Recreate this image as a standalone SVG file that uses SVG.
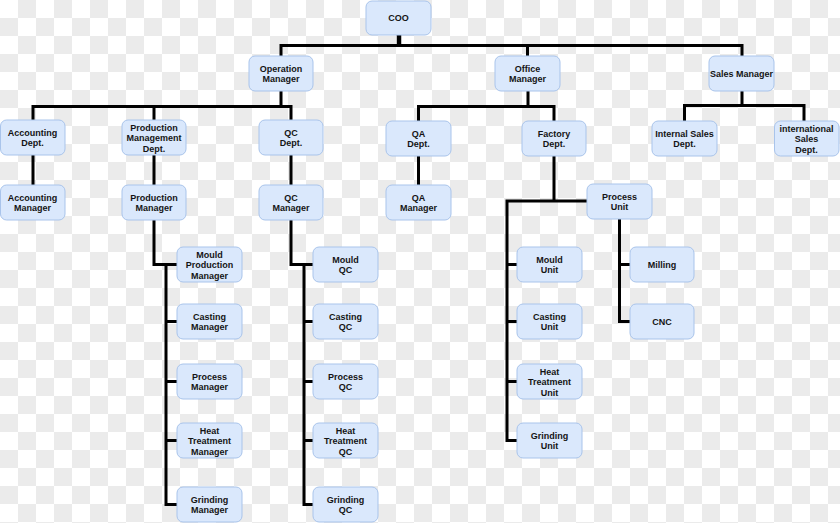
<svg xmlns="http://www.w3.org/2000/svg" width="840" height="523" viewBox="0 0 840 523">
<defs>
<pattern id="chk" x="0" y="0" width="36" height="36" patternUnits="userSpaceOnUse">
<rect width="36" height="36" fill="#ffffff"/>
<rect x="18" y="0" width="18" height="18" fill="#ebebeb"/>
<rect x="0" y="18" width="18" height="18" fill="#ebebeb"/>
</pattern>
</defs>
<style>
.n rect{fill:#dae8fc;stroke:#a9c4eb;stroke-width:1}
.n text{font-family:"Liberation Sans",Arial,sans-serif;font-size:9px;font-weight:bold;fill:#141414;text-anchor:middle}
.c path{fill:none;stroke:#000;stroke-width:3;stroke-linejoin:miter;stroke-linecap:butt}
</style>
<rect width="840" height="523" fill="url(#chk)"/>
<g class="c" id="connectors">
<path d="M399 35V46" style="stroke-width:4.5"/>
<path d="M281 56V45.5H742V56M527.5 45.5V56"/>
<path d="M281 91V106.5M33 120V106.5H291V120M154 106.5V120"/>
<path d="M33 155V185M154 155V185M291 155V185"/>
<path d="M528 91V106.5M418.5 121V106.5H554V121"/>
<path d="M418.5 156V185"/>
<path d="M554 156V201M587 201H507V440.5H517M507 264.5H517M507 321.5H517M507 381.5H517"/>
<path d="M619.5 219V321.5H630M619.5 264.5H630"/>
<path d="M742 91V105.5M684.5 121V105.5H804V121"/>
<path d="M154 220V264.5H177M166 264.5V504.5H177M166 321.5H177M166 381.5H177M166 440.5H177"/>
<path d="M291 220V264.5H313M304 264.5V504.5H313M304 321.5H313M304 381.5H313M304 440.5H313"/>
</g>
<g class="n" id="coo"><rect x="366" y="1" width="65" height="34" rx="6"/><text x="398.5" y="21.3">COO</text></g>
<g class="n" id="operation-manager"><rect x="249" y="56" width="64" height="35" rx="6"/><text x="281" y="71.5">Operation</text><text x="281" y="82.2">Manager</text></g>
<g class="n" id="office-manager"><rect x="495" y="56" width="65" height="35" rx="6"/><text x="527.5" y="71.5">Office</text><text x="527.5" y="82.2">Manager</text></g>
<g class="n" id="sales-manager"><rect x="709" y="56" width="65" height="35" rx="6"/><text x="741.5" y="76.8">Sales Manager</text></g>
<g class="n" id="accounting-dept"><rect x="0.5" y="120" width="64.5" height="35" rx="6"/><text x="32.5" y="135.5">Accounting</text><text x="32.5" y="146.2">Dept.</text></g>
<g class="n" id="production-management-dept"><rect x="122" y="120" width="64" height="35" rx="6"/><text x="154" y="130.6">Production</text><text x="154" y="141.3">Management</text><text x="154" y="152">Dept.</text></g>
<g class="n" id="qc-dept"><rect x="259" y="120" width="64" height="35" rx="6"/><text x="291" y="135.5">QC</text><text x="291" y="146.2">Dept.</text></g>
<g class="n" id="qa-dept"><rect x="386" y="121" width="65" height="35" rx="6"/><text x="418.5" y="136.5">QA</text><text x="418.5" y="147.2">Dept.</text></g>
<g class="n" id="factory-dept"><rect x="522" y="121" width="64" height="35" rx="6"/><text x="554" y="136.5">Factory</text><text x="554" y="147.2">Dept.</text></g>
<g class="n" id="internal-sales-dept"><rect x="652" y="121" width="65" height="35" rx="6"/><text x="684.5" y="136.5">Internal Sales</text><text x="684.5" y="147.2">Dept.</text></g>
<g class="n" id="international-sales-dept"><rect x="774.5" y="121" width="64.5" height="35" rx="6"/><text x="806.5" y="131.6">international</text><text x="806.5" y="142.3">Sales</text><text x="806.5" y="153">Dept.</text></g>
<g class="n" id="accounting-manager"><rect x="0.5" y="185" width="64.5" height="35" rx="6"/><text x="32.5" y="200.5">Accounting</text><text x="32.5" y="211.2">Manager</text></g>
<g class="n" id="production-manager"><rect x="122" y="185" width="64" height="35" rx="6"/><text x="154" y="200.5">Production</text><text x="154" y="211.2">Manager</text></g>
<g class="n" id="qc-manager"><rect x="259" y="185" width="64" height="35" rx="6"/><text x="291" y="200.5">QC</text><text x="291" y="211.2">Manager</text></g>
<g class="n" id="qa-manager"><rect x="386" y="185" width="65" height="35" rx="6"/><text x="418.5" y="200.5">QA</text><text x="418.5" y="211.2">Manager</text></g>
<g class="n" id="process-unit"><rect x="587" y="184" width="65" height="35" rx="6"/><text x="619.5" y="199.5">Process</text><text x="619.5" y="210.2">Unit</text></g>
<g class="n" id="mould-production-manager"><rect x="177" y="247" width="65" height="35" rx="6"/><text x="209.5" y="257.6">Mould</text><text x="209.5" y="268.3">Production</text><text x="209.5" y="279">Manager</text></g>
<g class="n" id="casting-manager"><rect x="177" y="304" width="65" height="35" rx="6"/><text x="209.5" y="319.5">Casting</text><text x="209.5" y="330.2">Manager</text></g>
<g class="n" id="process-manager"><rect x="177" y="364" width="65" height="35" rx="6"/><text x="209.5" y="379.5">Process</text><text x="209.5" y="390.2">Manager</text></g>
<g class="n" id="heat-treatment-manager"><rect x="177" y="423" width="65" height="35" rx="6"/><text x="209.5" y="433.6">Heat</text><text x="209.5" y="444.3">Treatment</text><text x="209.5" y="455">Manager</text></g>
<g class="n" id="grinding-manager"><rect x="177" y="487" width="65" height="35" rx="6"/><text x="209.5" y="502.5">Grinding</text><text x="209.5" y="513.2">Manager</text></g>
<g class="n" id="mould-qc"><rect x="313" y="247" width="65" height="35" rx="6"/><text x="345.5" y="262.5">Mould</text><text x="345.5" y="273.2">QC</text></g>
<g class="n" id="casting-qc"><rect x="313" y="304" width="65" height="35" rx="6"/><text x="345.5" y="319.5">Casting</text><text x="345.5" y="330.2">QC</text></g>
<g class="n" id="process-qc"><rect x="313" y="364" width="65" height="35" rx="6"/><text x="345.5" y="379.5">Process</text><text x="345.5" y="390.2">QC</text></g>
<g class="n" id="heat-treatment-qc"><rect x="313" y="423" width="65" height="35" rx="6"/><text x="345.5" y="433.6">Heat</text><text x="345.5" y="444.3">Treatment</text><text x="345.5" y="455">QC</text></g>
<g class="n" id="grinding-qc"><rect x="313" y="487" width="65" height="35" rx="6"/><text x="345.5" y="502.5">Grinding</text><text x="345.5" y="513.2">QC</text></g>
<g class="n" id="mould-unit"><rect x="517" y="247" width="65" height="35" rx="6"/><text x="549.5" y="262.5">Mould</text><text x="549.5" y="273.2">Unit</text></g>
<g class="n" id="casting-unit"><rect x="517" y="304" width="65" height="35" rx="6"/><text x="549.5" y="319.5">Casting</text><text x="549.5" y="330.2">Unit</text></g>
<g class="n" id="heat-treatment-unit"><rect x="517" y="364" width="65" height="35" rx="6"/><text x="549.5" y="374.6">Heat</text><text x="549.5" y="385.3">Treatment</text><text x="549.5" y="396">Unit</text></g>
<g class="n" id="grinding-unit"><rect x="517" y="423" width="65" height="35" rx="6"/><text x="549.5" y="438.5">Grinding</text><text x="549.5" y="449.2">Unit</text></g>
<g class="n" id="milling"><rect x="630" y="247" width="64" height="35" rx="6"/><text x="662" y="267.8">Milling</text></g>
<g class="n" id="cnc"><rect x="630" y="304" width="64" height="35" rx="6"/><text x="662" y="324.8">CNC</text></g>
</svg>
